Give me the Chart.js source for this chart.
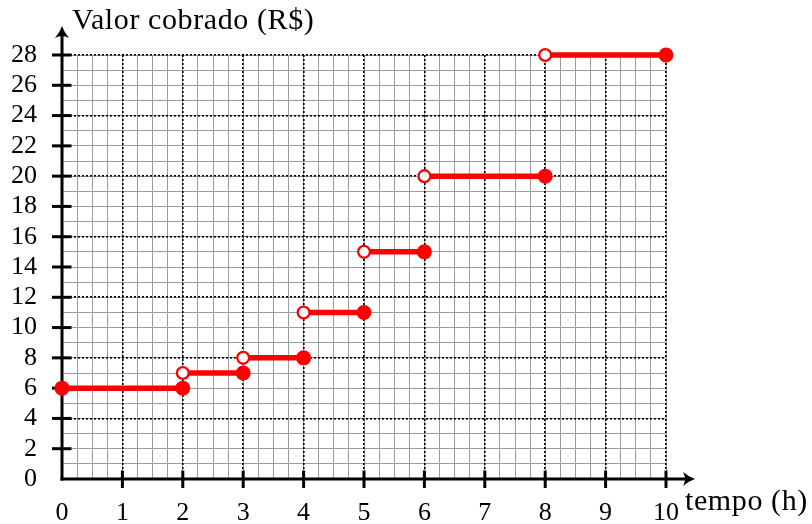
<!DOCTYPE html>
<html>
<head>
<meta charset="utf-8">
<script src="https://cdn.jsdelivr.net/npm/chart.js@4/dist/chart.umd.min.js"></script>
<style>
  html, body { margin: 0; padding: 0; background: #fff; }
  #wrap { width: 812px; height: 524px; position: relative; }
</style>
</head>
<body>
<div id="wrap"><canvas id="c"></canvas></div>
<script>
// ---- data ----
const stepStarts   = [0, 2, 3, 4, 5, 6, 8];
const stepEnds     = [2, 3, 4, 5, 6, 8, 10];
const stepValues   = [6, 7, 8, 11, 15, 20, 28];
const startClosed  = [true, false, false, false, false, false, false];
const endClosed    = [true, true, true, true, true, true, true];
const xTickLabels  = [0, 1, 2, 3, 4, 5, 6, 7, 8, 9, 10];
const yTickLabels  = [0, 2, 4, 6, 8, 10, 12, 14, 16, 18, 20, 22, 24, 26, 28];
const yAxisTitle   = 'Valor cobrado (R$)';
const xAxisTitle   = 'tempo (h)';

const RED = '#ff0000';
const SERIF = '"Liberation Serif", "DejaVu Serif", serif';

const datasets = stepStarts.map((s, i) => ({
  data: [{ x: s, y: stepValues[i] }, { x: stepEnds[i], y: stepValues[i] }],
  borderColor: RED,
  borderWidth: 5.5,
  borderCapStyle: 'butt',
  pointRadius: [startClosed[i] ? 7.5 : 5.9, endClosed[i] ? 7.5 : 5.9],
  pointBackgroundColor: [startClosed[i] ? RED : '#fff', endClosed[i] ? RED : '#fff'],
  pointBorderColor: RED,
  pointBorderWidth: [startClosed[i] ? 0 : 2.3, endClosed[i] ? 0 : 2.3],
  clip: false,
  tension: 0
}));

const setH = h => s => { s.height = h; };
const setW = w => s => { s.width = w; };

const axesPlugin = {
  id: 'axes',
  beforeDatasetsDraw(chart) {
    const ctx = chart.ctx;
    const xs = chart.scales.x, ys = chart.scales.y;
    const x0 = xs.getPixelForValue(0), y0 = ys.getPixelForValue(0);
    const xEnd = xs.getPixelForValue(xs.max) + 29;
    const yEnd = ys.getPixelForValue(ys.max) - 29;
    ctx.save();
    ctx.strokeStyle = '#000';
    ctx.fillStyle = '#000';
    ctx.lineWidth = 3;
    ctx.lineCap = 'butt';
    // x axis
    ctx.beginPath();
    ctx.moveTo(x0 - 1.5, y0);
    ctx.lineTo(xEnd - 5, y0);
    ctx.stroke();
    // y axis
    ctx.beginPath();
    ctx.moveTo(x0, y0 + 1.5);
    ctx.lineTo(x0, yEnd + 5);
    ctx.stroke();
    // arrowheads
    ctx.beginPath();
    ctx.moveTo(xEnd, y0);
    ctx.quadraticCurveTo(xEnd - 6, y0 - 2, xEnd - 12, y0 - 7);
    ctx.quadraticCurveTo(xEnd - 8, y0, xEnd - 12, y0 + 7);
    ctx.quadraticCurveTo(xEnd - 6, y0 + 2, xEnd, y0);
    ctx.fill();
    ctx.beginPath();
    ctx.moveTo(x0, yEnd);
    ctx.quadraticCurveTo(x0 - 2, yEnd + 6, x0 - 7, yEnd + 12);
    ctx.quadraticCurveTo(x0, yEnd + 8, x0 + 7, yEnd + 12);
    ctx.quadraticCurveTo(x0 + 2, yEnd + 6, x0, yEnd);
    ctx.fill();
    // tick marks crossing the axes
    ctx.lineWidth = 3;
    xs.ticks.forEach(t => {
      if (t.value === 0) return;
      const px = xs.getPixelForValue(t.value);
      ctx.beginPath();
      ctx.moveTo(px, y0 - 8.5);
      ctx.lineTo(px, y0 + 9);
      ctx.stroke();
    });
    ys.ticks.forEach(t => {
      if (t.value === 0) return;
      const py = ys.getPixelForValue(t.value);
      ctx.beginPath();
      ctx.moveTo(x0 - 10, py);
      ctx.lineTo(x0 + 9.5, py);
      ctx.stroke();
    });
    // axis titles
    ctx.font = '30px ' + SERIF;
    if ('letterSpacing' in ctx) ctx.letterSpacing = '0.6px';
    ctx.textBaseline = 'alphabetic';
    ctx.textAlign = 'left';
    ctx.fillText(yAxisTitle, x0 + 10, 29);
    ctx.fillText(xAxisTitle, xEnd - 10, 510);
    ctx.restore();
  }
};

new Chart(document.getElementById('c'), {
  type: 'line',
  data: { datasets },
  plugins: [axesPlugin],
  options: {
    responsive: true,
    maintainAspectRatio: false,
    animation: false,
    events: [],
    layout: { padding: { left: 0, right: 146, top: 55, bottom: 0 } },
    plugins: { legend: { display: false }, tooltip: { enabled: false }, title: { display: false } },
    scales: {
      xMinor: {
        type: 'linear', position: 'bottom', min: 0, max: 10,
        ticks: { stepSize: 0.25, display: false },
        grid: { color: '#9c9c9c', lineWidth: 1, drawTicks: false },
        border: { display: false },
        afterFit: setH(0)
      },
      yMinor: {
        type: 'linear', position: 'left', min: 0, max: 28,
        ticks: { stepSize: 1, display: false },
        grid: { color: '#9c9c9c', lineWidth: 1, drawTicks: false },
        border: { display: false },
        afterFit: setW(0)
      },
      yMajor: {
        type: 'linear', position: 'left', min: 0, max: 28,
        ticks: { stepSize: 4, display: false },
        grid: { color: '#000', lineWidth: 1.6, drawTicks: false },
        border: { display: false, dash: [2, 2] },
        afterFit: setW(0)
      },
      x: {
        type: 'linear', position: 'bottom', min: 0, max: 10,
        afterBuildTicks: s => { s.ticks = xTickLabels.map(v => ({ value: v })); },
        ticks: {
          stepSize: 1, autoSkip: false, maxRotation: 0, padding: 19,
          color: '#000', font: { family: SERIF, size: 26 }
        },
        grid: { color: '#000', lineWidth: 1.6, drawTicks: false },
        border: { display: false, dash: [2, 2] },
        afterFit: setH(45)
      },
      y: {
        type: 'linear', position: 'left', min: 0, max: 28,
        afterBuildTicks: s => { s.ticks = yTickLabels.map(v => ({ value: v })); },
        ticks: {
          stepSize: 2, autoSkip: false, padding: 25,
          color: '#000', font: { family: SERIF, size: 26 }
        },
        grid: { drawOnChartArea: false, drawTicks: false },
        border: { display: false },
        afterFit: setW(62)
      }
    }
  }
});
</script>
</body>
</html>
